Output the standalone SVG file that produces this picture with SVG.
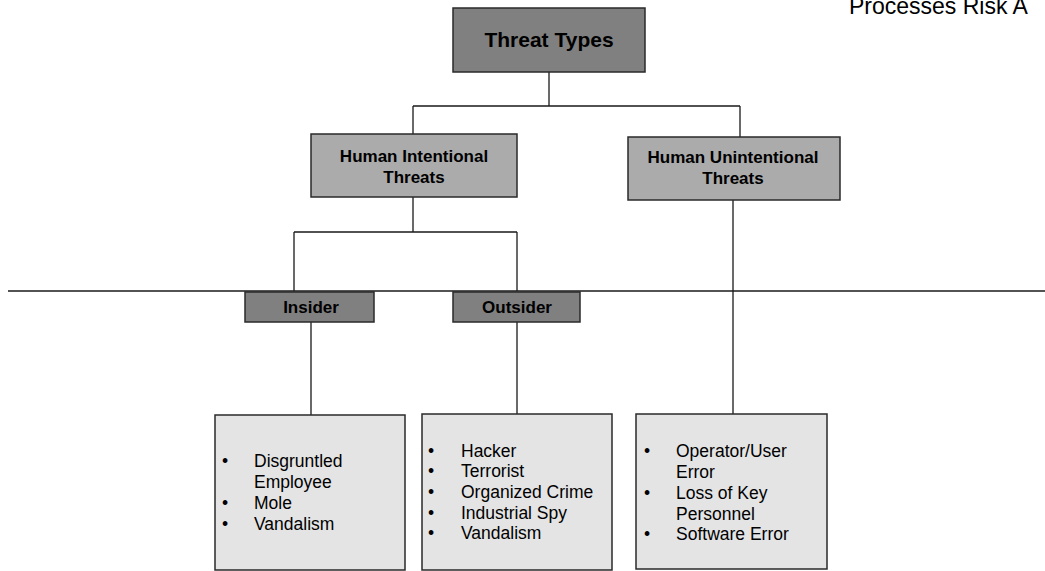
<svg xmlns="http://www.w3.org/2000/svg" width="1045" height="571" viewBox="0 0 1045 571">
<style>
  .box{stroke:#2a2a2a;stroke-width:1.5}
  .dark{fill:#808080}
  .mid{fill:#ababab}
  .light{fill:#e4e4e4}
  .conn{stroke:#1a1a1a;stroke-width:1.3;fill:none}
  .hd{font-family:"Liberation Sans",Arial,sans-serif;font-weight:bold;fill:#000;text-anchor:middle}
  .it{font-family:"Liberation Sans",Arial,sans-serif;font-size:17.5px;fill:#000}
</style>
<rect width="1045" height="571" fill="#ffffff"/>
<text x="849" y="14" font-family="Liberation Sans, Arial, sans-serif" font-size="23" fill="#000">Processes Risk A</text>
<g id="connectors">
  <path class="conn" d="M549 72 V106 M413 106 H740 M413 106 V134 M740 106 V137"/>
  <path class="conn" d="M413 197 V232 M294 232 H517 M294 232 V291 M517 232 V291"/>
  <path class="conn" d="M8 291 H1045"/>
  <path class="conn" d="M733 200 V414 M311 322 V415 M517 322 V414"/>
</g>
<g id="threat-types">
  <rect class="box dark" x="453" y="8" width="192" height="64"/>
  <text class="hd" x="549" y="47" font-size="21">Threat Types</text>
</g>
<g id="human-intentional">
  <rect class="box mid" x="311" y="134" width="206" height="63"/>
  <text class="hd" x="414" y="162" font-size="17">Human Intentional</text>
  <text class="hd" x="414" y="183" font-size="17">Threats</text>
</g>
<g id="human-unintentional">
  <rect class="box mid" x="628" y="137" width="212" height="63"/>
  <text class="hd" x="733" y="163" font-size="17">Human Unintentional</text>
  <text class="hd" x="733" y="184" font-size="17">Threats</text>
</g>
<g id="insider">
  <rect class="box dark" x="245" y="292" width="129" height="30"/>
  <text class="hd" x="311" y="313" font-size="17">Insider</text>
</g>
<g id="outsider">
  <rect class="box dark" x="453" y="292" width="127" height="30"/>
  <text class="hd" x="517" y="313" font-size="17">Outsider</text>
</g>
<g id="insider-list">
  <rect class="box light" x="215" y="415" width="190" height="155"/>
  <text class="it" x="222" y="467">•</text>
  <text class="it" x="254" y="467">Disgruntled</text>
  <text class="it" x="254" y="488">Employee</text>
  <text class="it" x="222" y="509">•</text>
  <text class="it" x="254" y="509">Mole</text>
  <text class="it" x="222" y="530">•</text>
  <text class="it" x="254" y="530">Vandalism</text>
</g>
<g id="outsider-list">
  <rect class="box light" x="422" y="414" width="190" height="156"/>
  <text class="it" x="428" y="457">•</text>
  <text class="it" x="461" y="457">Hacker</text>
  <text class="it" x="428" y="477">•</text>
  <text class="it" x="461" y="477">Terrorist</text>
  <text class="it" x="428" y="498">•</text>
  <text class="it" x="461" y="498">Organized Crime</text>
  <text class="it" x="428" y="519">•</text>
  <text class="it" x="461" y="519">Industrial Spy</text>
  <text class="it" x="428" y="539">•</text>
  <text class="it" x="461" y="539">Vandalism</text>
</g>
<g id="unintentional-list">
  <rect class="box light" x="636" y="414" width="191" height="155"/>
  <text class="it" x="644" y="457">•</text>
  <text class="it" x="676" y="457">Operator/User</text>
  <text class="it" x="676" y="478">Error</text>
  <text class="it" x="644" y="499">•</text>
  <text class="it" x="676" y="499">Loss of Key</text>
  <text class="it" x="676" y="520">Personnel</text>
  <text class="it" x="644" y="540">•</text>
  <text class="it" x="676" y="540">Software Error</text>
</g>
</svg>
